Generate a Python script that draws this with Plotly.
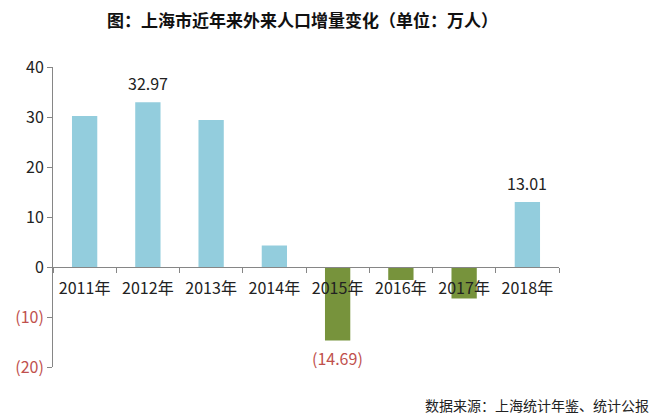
import plotly.graph_objects as go

years = ["2011年", "2012年", "2013年", "2014年", "2015年", "2016年", "2017年", "2018年"]
values = [30.2, 32.97, 29.4, 4.3, -14.69, -2.6, -6.3, 13.01]
labels = ["", "32.97", "", "", "(14.69)", "", "", "13.01"]
tick_vals = [-20, -10, 0, 10, 20, 30, 40]
tick_text = ["<span style='color:#C0504D'>(20)</span>", "<span style='color:#C0504D'>(10)</span>",
             "0", "10", "20", "30", "40"]

BLUE = "#93CDDD"
GREEN = "#77933C"
RED = "#C0504D"
FONT = "Noto Sans CJK SC"

colors = [BLUE if v >= 0 else GREEN for v in values]

fig = go.Figure(go.Bar(x=years, y=values, marker_color=colors, width=0.4,
                       marker_line_width=0, showlegend=False))

for x, v, t in zip(years, values, labels):
    if t:
        fig.add_annotation(x=x, y=v, text=t, showarrow=False,
                           yshift=19 if v >= 0 else -18,
                           font=dict(size=16, color=RED if v < 0 else "#222222", family=FONT))

fig.add_annotation(text="<b>图：上海市近年来外来人口增量变化（单位：万人）</b>", xref="paper", yref="paper",
                   x=(302 - 53) / 506, y=1 + (67 - 20) / 300, showarrow=False,
                   font=dict(size=17, color="#111111", family=FONT), xanchor="center", yanchor="middle")
fig.add_annotation(text="数据来源：上海统计年鉴、统计公报", xref="paper", yref="paper",
                   x=(651 - 53) / 506, y=-(405 - 367) / 300, showarrow=False,
                   font=dict(size=14, color="#222222", family=FONT), xanchor="right", yanchor="middle")

fig.update_layout(
    width=663, height=420,
    margin=dict(l=53, r=104, t=67, b=53),
    plot_bgcolor="white", paper_bgcolor="white",
    font=dict(family=FONT, size=16, color="#222222"),
    xaxis=dict(type="category", anchor="free", position=1/3, showline=True, linecolor="#868686",
               linewidth=1, ticks="outside", tickson="boundaries", ticklen=5, tickcolor="#868686",
               ticklabelstandoff=7,
               showgrid=False, tickfont=dict(size=16, color="#222222"), zeroline=False),
    yaxis=dict(range=[-20, 40], tickvals=tick_vals, ticktext=tick_text, showline=True,
               linecolor="#868686", linewidth=1, ticks="outside", ticklen=5, tickcolor="#868686",
               showgrid=False, zeroline=False, tickfont=dict(size=16, color="#222222")),
)

fig.write_html("out.html")
